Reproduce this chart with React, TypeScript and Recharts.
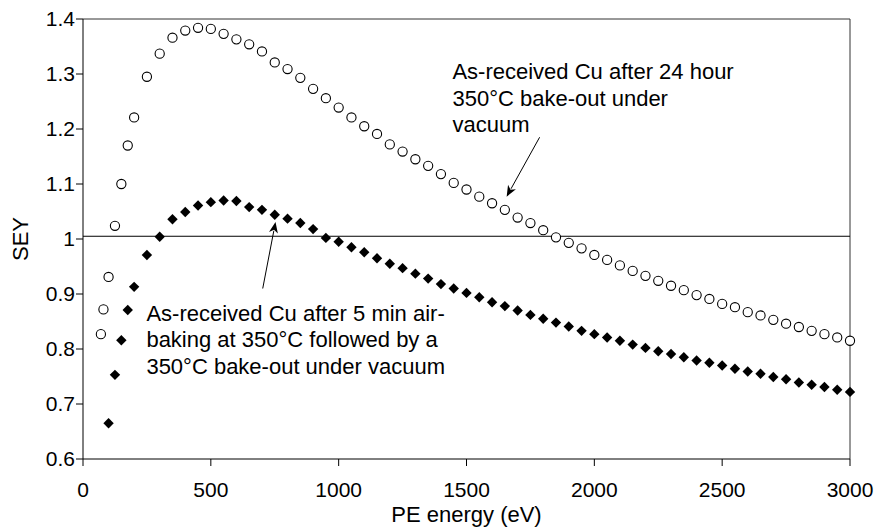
import React from "react"
import {
  ScatterChart,
  Scatter,
  XAxis,
  YAxis,
  ReferenceLine,
  ReferenceDot,
} from "recharts"

// PE energy (eV) for the open circles (24 h vacuum bake-out)
const circleEnergy = [
  70, 80, 100, 125, 150, 175, 200, 250, 300, 350, 400, 450, 500, 550, 600, 650,
  700, 750, 800, 850, 900, 950, 1000, 1050, 1100, 1150, 1200, 1250, 1300, 1350,
  1400, 1450, 1500, 1550, 1600, 1650, 1700, 1750, 1800, 1850, 1900, 1950, 2000,
  2050, 2100, 2150, 2200, 2250, 2300, 2350, 2400, 2450, 2500, 2550, 2600, 2650,
  2700, 2750, 2800, 2850, 2900, 2950, 3000,
]
const circleSey = [
  0.827, 0.872, 0.931, 1.024, 1.1, 1.17, 1.221, 1.295, 1.337, 1.366, 1.379, 1.384,
  1.382, 1.373, 1.363, 1.354, 1.341, 1.321, 1.309, 1.293, 1.273, 1.256, 1.239,
  1.221, 1.205, 1.191, 1.172, 1.159, 1.145, 1.133, 1.118, 1.102, 1.09, 1.077,
  1.065, 1.053, 1.039, 1.029, 1.016, 1.003, 0.993, 0.983, 0.971, 0.962, 0.952,
  0.942, 0.933, 0.924, 0.915, 0.907, 0.898, 0.891, 0.882, 0.876, 0.867, 0.861,
  0.853, 0.846, 0.84, 0.833, 0.827, 0.821, 0.815,
]

// PE energy (eV) for the filled diamonds (air-baking + vacuum bake-out)
const diamondEnergy = [
  100, 125, 150, 175, 200, 250, 300, 350, 400, 450, 500, 550, 600, 650, 700, 750,
  800, 850, 900, 950, 1000, 1050, 1100, 1150, 1200, 1250, 1300, 1350, 1400, 1450,
  1500, 1550, 1600, 1650, 1700, 1750, 1800, 1850, 1900, 1950, 2000, 2050, 2100,
  2150, 2200, 2250, 2300, 2350, 2400, 2450, 2500, 2550, 2600, 2650, 2700, 2750,
  2800, 2850, 2900, 2950, 3000,
]
const diamondSey = [
  0.665, 0.753, 0.816, 0.871, 0.913, 0.971, 1.004, 1.036, 1.049, 1.061, 1.067,
  1.07, 1.069, 1.058, 1.053, 1.044, 1.037, 1.029, 1.018, 1.002, 0.995, 0.985,
  0.976, 0.965, 0.955, 0.947, 0.937, 0.928, 0.918, 0.91, 0.902, 0.894, 0.885,
  0.878, 0.87, 0.862, 0.855, 0.848, 0.841, 0.833, 0.827, 0.821, 0.815, 0.808,
  0.802, 0.796, 0.791, 0.785, 0.779, 0.775, 0.77, 0.764, 0.759, 0.755, 0.749,
  0.745, 0.739, 0.735, 0.731, 0.726, 0.722,
]

const xTicks = [0, 500, 1000, 1500, 2000, 2500, 3000]
const yTicks = [0.6, 0.7, 0.8, 0.9, 1.0, 1.1, 1.2, 1.3, 1.4]
const unityLine = 1.005

const note1Lines = ["As-received Cu after 24 hour", "350°C bake-out under", "vacuum"]
const note2Lines = [
  "As-received Cu after 5 min air-",
  "baking at 350°C followed by a",
  "350°C bake-out under vacuum",
]

const circleData = circleEnergy.map((x, i) => ({ x, y: circleSey[i] }))
const diamondData = diamondEnergy.map((x, i) => ({ x, y: diamondSey[i] }))

const FONT = '"Liberation Sans", Arial, sans-serif'
const FS = 22
const TICK_FS = 21

const OpenCircle = (p: any) => (
  <circle cx={p.cx} cy={p.cy} r={4.6} fill="#fff" stroke="#000" strokeWidth={1.1} />
)

const Diamond = (p: any) => {
  const s = 5.2
  return (
    <polygon
      points={`${p.cx},${p.cy - s} ${p.cx + s},${p.cy} ${p.cx},${p.cy + s} ${p.cx - s},${p.cy}`}
      fill="#000"
    />
  )
}

const Arrow = (p: any) => {
  const { x1, y1, x2, y2 } = p
  const dx = x2 - x1
  const dy = y2 - y1
  const len = Math.sqrt(dx * dx + dy * dy)
  const ux = dx / len
  const uy = dy / len
  const hl = 11
  const hw = 4.5
  const bx = x2 - ux * hl
  const by = y2 - uy * hl
  return (
    <g>
      <line x1={x1} y1={y1} x2={bx + ux * 2} y2={by + uy * 2} stroke="#000" strokeWidth={1} />
      <polygon
        points={`${x2},${y2} ${bx - uy * hw},${by + ux * hw} ${bx + ux * 3},${by + uy * 3} ${bx + uy * hw},${by - ux * hw}`}
        fill="#000"
      />
    </g>
  )
}

const noteShape = (lines: string[]) => (p: any) => (
  <g>
    {lines.map((t, i) => (
      <text
        key={i}
        x={p.cx}
        y={p.cy + i * 26.5}
        dominantBaseline="central"
        fontSize={FS}
        fontFamily={FONT}
        fill="#000"
      >
        {t}
      </text>
    ))}
  </g>
)

export default function App() {
  return (
    <div
      style={{
        position: "absolute",
        left: 0,
        top: 0,
        width: 878,
        height: 529,
        background: "#fff",
        fontFamily: FONT,
      }}
    >
      <ScatterChart width={878} height={529} margin={{ top: 19, right: 28, bottom: 0, left: 0 }}>
        <XAxis
          type="number"
          dataKey="x"
          domain={[0, 3000]}
          ticks={xTicks}
          tickSize={7}
          tickMargin={16}
          height={70}
          stroke="#000"
          tick={{ fill: "#000", fontSize: TICK_FS, fontFamily: FONT }}
          label={{
            content: (lp: any) => {
              const vb = lp.viewBox
              return (
                <text
                  x={vb.x + vb.width / 2}
                  y={vb.y + 63}
                  textAnchor="middle"
                  fontSize={FS}
                  fontFamily={FONT}
                  fill="#000"
                >
                  PE energy (eV)
                </text>
              )
            },
          }}
        />
        <YAxis
          type="number"
          dataKey="y"
          domain={[0.6, 1.4]}
          ticks={yTicks}
          tickSize={7}
          tickMargin={1}
          width={83}
          stroke="#000"
          tickFormatter={(v: number) => String(+v.toFixed(1))}
          tick={{ fill: "#000", fontSize: TICK_FS, fontFamily: FONT }}
          label={{
            content: (lp: any) => {
              const vb = lp.viewBox
              const cx = vb.x + 20
              const cy = vb.y + vb.height / 2
              return (
                <text
                  x={cx}
                  y={cy}
                  transform={`rotate(-90 ${cx} ${cy})`}
                  textAnchor="middle"
                  dominantBaseline="central"
                  fontSize={FS}
                  fontFamily={FONT}
                  fill="#000"
                >
                  SEY
                </text>
              )
            },
          }}
        />
        <ReferenceLine y={1.4} stroke="#333" strokeWidth={1} />
        <ReferenceLine x={3000} stroke="#333" strokeWidth={1} />
        <ReferenceLine y={unityLine} stroke="#000" strokeWidth={1} />
        <Scatter data={circleData} shape={OpenCircle} isAnimationActive={false} />
        <Scatter data={diamondData} shape={Diamond} isAnimationActive={false} />
        <ReferenceLine
          segment={[
            { x: 1786, y: 1.185 },
            { x: 1657, y: 1.077 },
          ]}
          shape={Arrow}
        />
        <ReferenceLine
          segment={[
            { x: 703, y: 0.91 },
            { x: 753, y: 1.031 },
          ]}
          shape={Arrow}
        />
        <ReferenceDot x={1445} y={1.304} r={0} shape={noteShape(note1Lines)} />
        <ReferenceDot x={248} y={0.865} r={0} shape={noteShape(note2Lines)} />
      </ScatterChart>
    </div>
  )
}
